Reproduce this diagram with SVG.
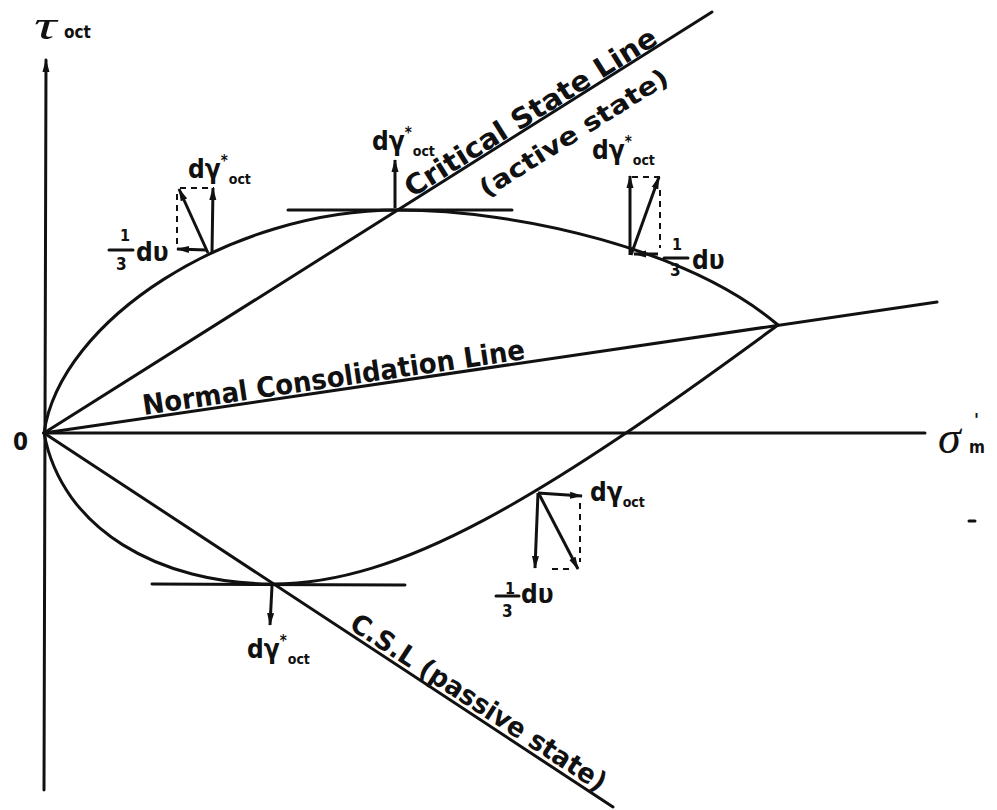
<svg xmlns="http://www.w3.org/2000/svg" width="997" height="810" viewBox="0 0 997 810">
<defs>
<marker id="ah" markerWidth="14" markerHeight="8" refX="12" refY="4" orient="auto" markerUnits="userSpaceOnUse">
<path d="M0,0.5 L13,4 L0,7.5 z" fill="#111"/>
</marker>
<style>
.ln{stroke:#111;stroke-width:3;fill:none;stroke-linecap:round}
.vec{stroke:#111;stroke-width:3;fill:none;marker-end:url(#ah)}
.dash{stroke:#111;stroke-width:2;fill:none;stroke-dasharray:6,5}
.t{font-family:"Liberation Sans Narrow","DejaVu Sans Condensed","Liberation Sans",sans-serif;font-weight:bold;fill:#111}
.s{font-family:"Liberation Serif",serif;font-style:italic;fill:#111}
.sup{font-size:15px}
.sub{font-size:14px}
</style>
</defs>
<rect width="997" height="810" fill="#fff"/>
<g id="connectors">
<path class="ln" d="M44,790 L46,60" marker-end="url(#ah)"/>
<path class="ln" d="M44,433 L925,433"/>
<path class="ln" d="M44,433 L712,12"/>
<path class="ln" d="M44,433 L937,302"/>
<path class="ln" d="M44,433 L613,807"/>
<path class="ln" d="M288,210 L512,210"/>
<path class="ln" d="M152,584 L405,585"/>
</g>
<g id="yield-active">
<path class="ln" d="M44,433 C60,320 230,210 398,210 C520,210 690,250 778,325"/>
</g>
<g id="yield-passive">
<path class="ln" d="M44,433 C62,530 160,584 273,584 C400,584 540,500 778,325"/>
</g>
<g id="axis-labels">
<text class="s" font-size="42" transform="translate(34,39) scale(1.5,1)">τ</text>
<text class="t" x="64" y="38" font-size="17">oct</text>
<text class="t" x="13" y="450" font-size="24">0</text>
<text class="s" x="938" y="453" font-size="46">σ</text>
<text class="t" x="974" y="426" font-size="18">'</text>
<text class="t" x="969" y="453" font-size="17">m</text>
</g>
<g id="line-labels">
<text class="t" font-size="28" textLength="292" lengthAdjust="spacingAndGlyphs" transform="translate(412,198) rotate(-32.1)">Critical State Line</text>
<text class="t" font-size="25" textLength="218" lengthAdjust="spacingAndGlyphs" transform="translate(486,198) rotate(-32.1)">(active state)</text>
<text class="t" font-size="28" textLength="386" lengthAdjust="spacingAndGlyphs" transform="translate(144,415) rotate(-8.35)">Normal Consolidation Line</text>
<text class="t" font-size="27" textLength="300" lengthAdjust="spacingAndGlyphs" transform="translate(348,628) rotate(33.2)">C.S.L (passive state)</text>
</g>
<g id="vec-top-left">
<path class="vec" d="M212,253 L213,188"/>
<path class="vec" d="M208,253 L179,189"/>
<path class="dash" d="M180,188 L214,188"/>
<path class="dash" d="M177,194 L177,246"/>
<path class="vec" d="M206,250 L177,249"/>
<text class="t" x="188" y="178" font-size="26">dγ<tspan class="sup" dy="-12">*</tspan><tspan class="sub" dx="1" dy="18">oct</tspan></text>
<text class="t" x="120" y="241" font-size="16">1</text>
<path class="ln" d="M109,250 L133,250" stroke-width="2.5"/>
<text class="t" x="116" y="270" font-size="17">3</text>
<text class="t" x="136" y="261" font-size="26">dυ</text>
</g>
<g id="vec-top-center">
<path class="vec" d="M395,208 L395,160"/>
<text class="t" x="372" y="150" font-size="26">dγ<tspan class="sup" dy="-12">*</tspan><tspan class="sub" dx="1" dy="18">oct</tspan></text>
</g>
<g id="vec-top-right">
<path class="vec" d="M630,255 L630,176"/>
<path class="vec" d="M631,255 L659,177"/>
<path class="dash" d="M660,190 L660,248"/>
<path class="dash" d="M632,177 L660,177"/>
<path class="vec" d="M658,254 L634,254"/>
<text class="t" x="592" y="159" font-size="26">dγ<tspan class="sup" dy="-12">*</tspan><tspan class="sub" dx="1" dy="18">oct</tspan></text>
<text class="t" x="672" y="250" font-size="16">1</text>
<path class="ln" d="M664,258 L688,258" stroke-width="2.5"/>
<text class="t" x="670" y="276" font-size="17">3</text>
<text class="t" x="692" y="269" font-size="26">dυ</text>
</g>
<g id="vec-bottom-right">
<path class="vec" d="M538,493 L582,496"/>
<path class="vec" d="M538,493 L535,568"/>
<path class="vec" d="M539,494 L578,569"/>
<path class="dash" d="M580,503 L580,562"/>
<path class="dash" d="M552,569 L572,569"/>
<text class="t" x="590" y="501" font-size="26">dγ<tspan class="sub" dy="6">oct</tspan></text>
<text class="t" x="505" y="594" font-size="16">1</text>
<path class="ln" d="M496,596 L519,596" stroke-width="2.5"/>
<text class="t" x="502" y="617" font-size="17">3</text>
<text class="t" x="521" y="603" font-size="26">dυ</text>
</g>
<g id="vec-bottom-center">
<path class="vec" d="M272,586 L270,625"/>
<text class="t" x="247" y="658" font-size="26">dγ<tspan class="sup" dy="-12">*</tspan><tspan class="sub" dx="1" dy="18">oct</tspan></text>
</g>
<g id="marks">
<path class="ln" d="M969,521 L975,521" stroke-width="2.5"/>
</g>
</svg>
